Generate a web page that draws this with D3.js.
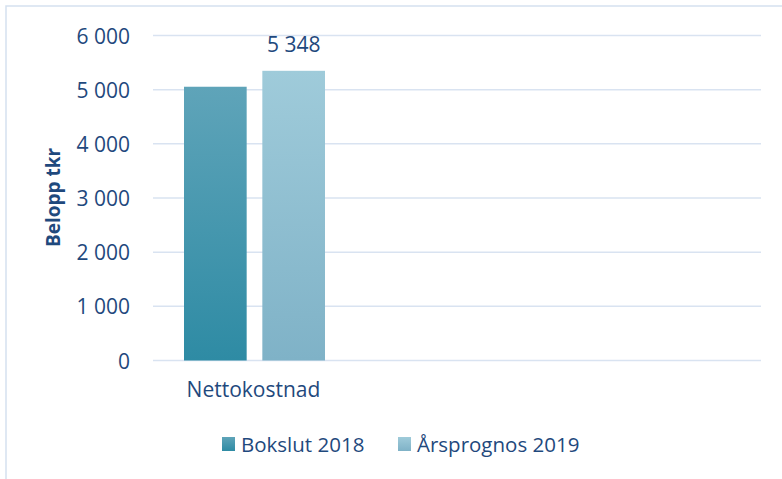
<!DOCTYPE html>
<html>
<head>
<meta charset="utf-8">
<script src="https://cdn.jsdelivr.net/npm/d3@7"></script>
<style>
  body { margin: 0; background: #fff; }
  svg { display: block; font-family: "Open Sans", sans-serif; }
</style>
</head>
<body>
<svg width="782" height="479"></svg>
<script>
const width = 782;
const height = 479;

// data
var categories = ["Nettokostnad"];
var series = ["Bokslut 2018", "Årsprognos 2019"];
var bokslut2018 = [5054];
var arsprognos2019 = [5348];
var yTicks = [0, 1000, 2000, 3000, 4000, 5000, 6000];

var textColor = "#1f497d";
var gridColor = "#d9e3f1";

var svg = d3.select("svg");
var defs = svg.append("defs");

var gradients = [
    {id: "g0", top: "#5fa4b9", bottom: "#2e8ba4"},
    {id: "g1", top: "#9fcbda", bottom: "#7fb2c7"}
];
gradients.forEach(function (g) {
    var lg = defs.append("linearGradient")
        .attr("id", g.id)
        .attr("x1", 0).attr("y1", 0).attr("x2", 0).attr("y2", 1);
    lg.append("stop").attr("offset", "0%").attr("stop-color", g.top);
    lg.append("stop").attr("offset", "100%").attr("stop-color", g.bottom);
});

// chart border (only top and left visible)
svg.append("path")
    .attr("d", "M6,479V6H782")
    .attr("fill", "none")
    .attr("stroke", "#d5e1ef")
    .attr("stroke-width", 1.5);

var plotLeft = 153, plotRight = 761;
var y = d3.scaleLinear().domain([0, 6000]).range([360.5, 35.5]);

// bars of the one category sit at the left of the plot
var x1 = d3.scaleBand().domain(series).range([184, 325]).paddingInner(0.2);

var fmt = function (v) { return d3.format(",")(v).replace(/,/g, " "); };

// gridlines
svg.append("g")
    .selectAll("line")
    .data(yTicks)
    .join("line")
    .attr("x1", plotLeft).attr("x2", plotRight)
    .attr("y1", function (d) { return y(d); })
    .attr("y2", function (d) { return y(d); })
    .attr("stroke", gridColor)
    .attr("stroke-width", 1.5);

// y axis labels
var yAxis = d3.axisLeft(y).tickValues(yTicks).tickFormat(fmt).tickSize(0).tickPadding(0);
var ya = svg.append("g").attr("transform", "translate(130,0)").call(yAxis);
ya.select(".domain").remove();
ya.selectAll("text")
    .attr("fill", textColor)
    .style("font-size", "21px")
    .style("font-family", "'Open Sans', sans-serif")
    .attr("dy", "0.36em");

// bars
var values = [bokslut2018, arsprognos2019];
series.forEach(function (s, i) {
    svg.append("g")
        .selectAll("rect")
        .data(values[i])
        .join("rect")
        .attr("x", x1(s))
        .attr("width", x1.bandwidth())
        .attr("y", function (d) { return y(d); })
        .attr("height", function (d) { return y(0) - y(d); })
        .attr("fill", "url(#g" + i + ")");
});

// data label on 2019 bar
svg.append("text")
    .attr("x", x1(series[1]) + x1.bandwidth() / 2)
    .attr("y", y(arsprognos2019[0]) - 19)
    .attr("text-anchor", "middle")
    .attr("fill", textColor)
    .style("font-size", "21px")
    .text(fmt(arsprognos2019[0]));

// category label
svg.append("text")
    .attr("x", 253.5)
    .attr("y", 397)
    .attr("text-anchor", "middle")
    .attr("fill", textColor)
    .style("font-size", "21px")
    .text(categories[0]);

// y axis title
svg.append("text")
    .attr("transform", "translate(60,197.5) rotate(-90)")
    .attr("text-anchor", "middle")
    .attr("fill", textColor)
    .style("font-size", "19px")
    .style("font-weight", "bold")
    .text("Belopp tkr");

// legend
var legend = [
    {x: 222, tx: 241, label: series[0], fill: "url(#g0)"},
    {x: 398, tx: 417, label: series[1], fill: "url(#g1)"}
];
var lg = svg.append("g").selectAll("g").data(legend).join("g");
lg.append("rect")
    .attr("x", function (d) { return d.x; })
    .attr("y", 437)
    .attr("width", 13).attr("height", 14)
    .attr("fill", function (d) { return d.fill; });
lg.append("text")
    .attr("x", function (d) { return d.tx; })
    .attr("y", 452)
    .attr("fill", textColor)
    .style("font-size", "20.5px")
    .text(function (d) { return d.label; });
</script>
</body>
</html>
